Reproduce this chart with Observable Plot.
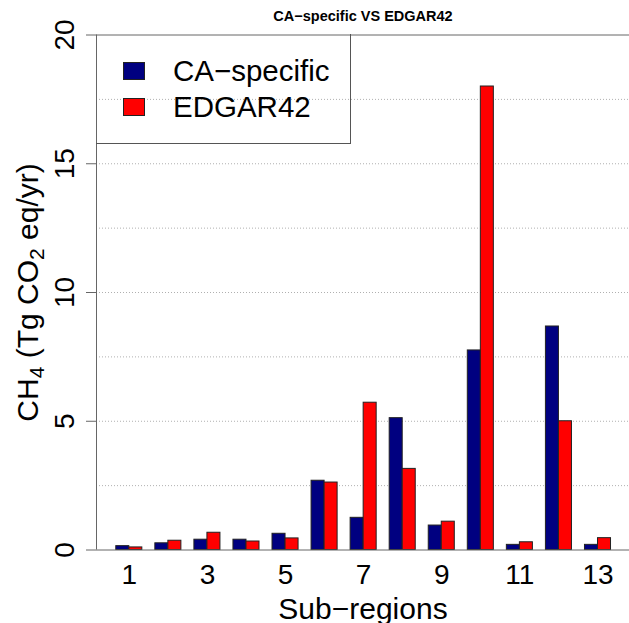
<!DOCTYPE html>
<html>
<head>
<meta charset="utf-8">
<script src="https://cdn.jsdelivr.net/npm/d3@7"></script>
<script src="https://cdn.jsdelivr.net/npm/@observablehq/plot@0.6"></script>
<style>
  html, body { margin: 0; padding: 0; background: #fff; }
  #wrap { position: relative; width: 629px; height: 623px; overflow: hidden; font-family: "Liberation Sans", Arial, sans-serif; }
  #title { position: absolute; left: 96px; width: 534px; top: 8px; text-align: center; font-weight: bold; font-size: 14.5px; color: #000; }
  #legend { position: absolute; left: 96px; top: 34px; width: 255px; height: 110px; border: 1px solid #555; border-top: none; border-left: none; box-sizing: border-box; }
  .lg { position: absolute; left: 27px; display: flex; align-items: center; font-size: 29.5px; color: #000; }
  .sw { width: 22px; height: 18px; border: 1px solid #222; box-sizing: border-box; margin-right: 28px; }
  svg { position: absolute; left: 0; top: 0; }
</style>
</head>
<body>
<div id="wrap">
  <div id="title">CA−specific VS EDGAR42</div>
</div>
<script>
// Data
const regions = [1, 2, 3, 4, 5, 6, 7, 8, 9, 10, 11, 12, 13];
const caSpecific = [0.15, 0.26, 0.40, 0.40, 0.63, 2.69, 1.25, 5.12, 0.95, 7.75, 0.20, 8.68, 0.20];
const edgar42 = [0.10, 0.36, 0.67, 0.33, 0.45, 2.62, 5.72, 3.15, 1.10, 18.0, 0.30, 5.00, 0.46];
const seriesNames = ["CA−specific", "EDGAR42"];
const seriesColors = ["#000080", "#FF0000"];
const xTickLabels = [1, 3, 5, 7, 9, 11, 13];
const yTicks = [0, 5, 10, 15, 20];
const yGrid = [2.5, 5, 7.5, 10, 12.5, 15, 17.5];
const xLabel = "Sub−regions";
const yLabel = "CH4 (Tg CO2 eq/yr)";

// R barplot(beside=TRUE) layout: each bar 1 unit, 1 unit gap between groups
const rows = [];
regions.forEach((r, i) => {
  rows.push({region: r, series: seriesNames[0], value: caSpecific[i], x1: 3 * i + 1, x2: 3 * i + 2});
  rows.push({region: r, series: seriesNames[1], value: edgar42[i], x1: 3 * i + 2, x2: 3 * i + 3});
});
const nUnits = regions.length * 3;
const ext = (nUnits - 1) * 0.04;
const xMin = 1 - ext;

const chart = Plot.plot({
  width: 629,
  height: 623,
  marginLeft: 96,
  marginRight: 0,
  marginTop: 34.5,
  marginBottom: 73.5,
  style: {fontFamily: "Liberation Sans, Arial, sans-serif", background: "transparent"},
  x: {domain: [xMin, xMin + 40.94], axis: null},
  y: {domain: [0, 20], axis: null},
  color: {domain: seriesNames, range: seriesColors},
  marks: [
    Plot.ruleY(yGrid, {stroke: "#b0b0b0", strokeDasharray: "1,2", strokeWidth: 1}),
    Plot.rectY(rows, {x1: "x1", x2: "x2", y: "value", fill: "series", stroke: "#222", strokeWidth: 1}),
    Plot.ruleY([0, 20], {stroke: "#666", strokeWidth: 1}),
    Plot.ruleX([xMin], {y1: 0, y2: 20, stroke: "#666", strokeWidth: 1}),
    Plot.axisY(yTicks, {tickSize: 10, tickFormat: () => "", label: null, stroke: "#666"}),
    Plot.text(yTicks, {y: d => d, text: d => String(d), frameAnchor: "left", dx: -31, rotate: -90, textAnchor: "middle", lineAnchor: "middle", fontSize: 28, fill: "#000"}),
    Plot.text(xTickLabels, {x: d => 3 * d - 1, text: d => String(d), frameAnchor: "bottom", dy: 33.5, lineAnchor: "bottom", fontSize: 28, fill: "#000"}),
    Plot.text([xLabel], {frameAnchor: "bottom", dy: 68.5, lineAnchor: "bottom", fontSize: 30, fill: "#000"}),
    Plot.text([yLabel], {frameAnchor: "left", dx: -68, rotate: -90, textAnchor: "middle", lineAnchor: "middle", fontSize: 30, fill: "#000"})
  ]
});

// Subscripts for the y-axis label
chart.querySelectorAll("text").forEach(t => {
  if (t.textContent === yLabel) {
    const parts = [["CH", false], ["4", true], [" (Tg CO", false], ["2", true], [" eq/yr)", false]];
    t.textContent = "";
    parts.forEach(([s, sub]) => {
      const ts = document.createElementNS("http://www.w3.org/2000/svg", "tspan");
      ts.textContent = s;
      if (sub) { ts.setAttribute("font-size", "21"); ts.setAttribute("dy", "6"); }
      else if (t.childNodes.length) { ts.setAttribute("dy", "-6"); }
      t.appendChild(ts);
    });
  }
});

const wrap = document.getElementById("wrap");
wrap.insertBefore(chart, wrap.firstChild);

// Legend inside plot area, top-left
const legend = document.createElement("div");
legend.id = "legend";
seriesNames.forEach((name, i) => {
  const item = document.createElement("div");
  item.className = "lg";
  item.style.top = (i === 0 ? 20 : 56) + "px";
  const sw = document.createElement("div");
  sw.className = "sw";
  sw.style.background = seriesColors[i];
  const lab = document.createElement("span");
  lab.textContent = name;
  item.appendChild(sw);
  item.appendChild(lab);
  legend.appendChild(item);
});
wrap.appendChild(legend);
</script>
</body>
</html>
